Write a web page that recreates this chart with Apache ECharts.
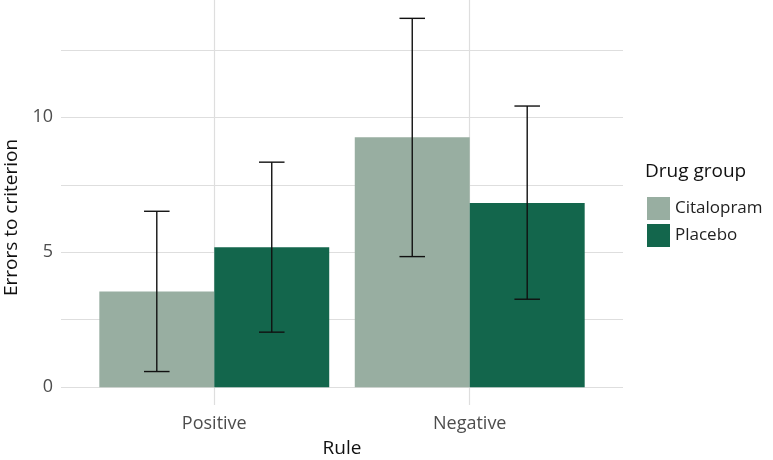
<!DOCTYPE html>
<html>
<head>
<meta charset="utf-8">
<script src="https://cdn.jsdelivr.net/npm/echarts@6/dist/echarts.min.js"></script>
<style>html,body{margin:0;padding:0;background:#fff}#c{width:773px;height:460px}</style>
</head>
<body>
<div id="c"></div>
<script>
const categories = ['Positive', 'Negative'];
const groups = ['Citalopram', 'Placebo'];
const citalopramMean = [3.55, 9.26];
const citalopramLow = [0.58, 4.84];
const citalopramHigh = [6.52, 13.67];
const placeboMean = [5.19, 6.83];
const placeboLow = [2.04, 3.26];
const placeboHigh = [8.34, 10.42];
const yTickLabels = [0, 5, 10];
const yGridLines = [0, 2.5, 5, 7.5, 10, 12.5];
const colors = ['#98aea1', '#13664c'];

const FONT = 'Open Sans';

function makeData(mean, low, high) {
  return categories.map((c, i) => [i + 1, mean[i], low[i], high[i]]);
}

function render(offset) {
  return function (params, api) {
    const x = api.value(0) + offset;
    const y = api.value(1);
    const lo = api.value(2);
    const hi = api.value(3);
    const p0 = api.coord([x - 0.225, 0]);
    const p1 = api.coord([x + 0.225, y]);
    const c = api.coord([x, lo]);
    const ch = api.coord([x, hi]);
    const capL = api.coord([x - 0.05, lo])[0];
    const capR = api.coord([x + 0.05, lo])[0];
    const ls = { stroke: '#111', lineWidth: 1.4 };
    return {
      type: 'group',
      children: [
        { type: 'rect', shape: { x: p0[0], y: p1[1], width: p1[0] - p0[0], height: p0[1] - p1[1] }, style: { fill: api.visual('color') } },
        { type: 'line', shape: { x1: c[0], y1: c[1], x2: ch[0], y2: ch[1] }, style: ls, z2: 10 },
        { type: 'line', shape: { x1: capL, y1: c[1], x2: capR, y2: c[1] }, style: ls, z2: 10 },
        { type: 'line', shape: { x1: capL, y1: ch[1], x2: capR, y2: ch[1] }, style: ls, z2: 10 }
      ]
    };
  };
}

const gridLineData = yGridLines.map(v => ({ yAxis: v })).concat(categories.map((c, i) => ({ xAxis: i + 1 })));

const option = {
  animation: false,
  textStyle: { fontFamily: FONT },
  grid: { left: 61, right: 150, top: 0, bottom: 55, containLabel: false, outerBoundsMode: 'none' },
  title: {
    text: 'Drug group', left: 640, top: 157,
    textStyle: { fontFamily: FONT, fontSize: 19, fontWeight: 'normal', color: '#111' }
  },
  legend: {
    data: groups, orient: 'vertical', left: 642, top: 192,
    itemWidth: 23, itemHeight: 23, itemGap: 4, icon: 'rect',
    textStyle: { fontFamily: FONT, fontSize: 17, color: '#222', padding: [0, 0, 0, 0] }
  },
  xAxis: {
    type: 'value', min: 0.4, max: 2.6,
    name: 'Rule', nameLocation: 'middle', nameGap: 34,
    nameTextStyle: { fontFamily: FONT, fontSize: 19, color: '#111' },
    axisLine: { show: false }, axisTick: { show: false }, splitLine: { show: false },
    axisLabel: {
      customValues: categories.map((c, i) => i + 1),
      formatter: v => categories[Math.round(v) - 1],
      fontFamily: FONT, fontSize: 18, color: '#4d4d4d', margin: 10
    }
  },
  yAxis: {
    type: 'value', min: -0.66, max: 14.35,
    name: 'Errors to criterion', nameLocation: 'middle', nameGap: 33,
    nameTextStyle: { fontFamily: FONT, fontSize: 19, color: '#111', padding: [0, 30, 0, 0] },
    axisLine: { show: false }, axisTick: { show: false }, splitLine: { show: false },
    axisLabel: {
      customValues: yTickLabels,
      fontFamily: FONT, fontSize: 18, color: '#4d4d4d', margin: 8
    }
  },
  series: [
    {
      type: 'line', data: [], z: 0, silent: true,
      markLine: {
        silent: true, symbol: ['none', 'none'], label: { show: false },
        lineStyle: { type: 'solid', color: '#dedede', width: 1.2 },
        emphasis: { disabled: true },
        data: gridLineData
      }
    },
    { name: groups[0], type: 'custom', zlevel: 1, itemStyle: { color: colors[0] }, renderItem: render(-0.225), data: makeData(citalopramMean, citalopramLow, citalopramHigh), encode: { x: 0, y: 1 } },
    { name: groups[1], type: 'custom', zlevel: 1, itemStyle: { color: colors[1] }, renderItem: render(0.225), data: makeData(placeboMean, placeboLow, placeboHigh), encode: { x: 0, y: 1 } }
  ]
};

echarts.init(document.getElementById('c')).setOption(option);
</script>
</body>
</html>
